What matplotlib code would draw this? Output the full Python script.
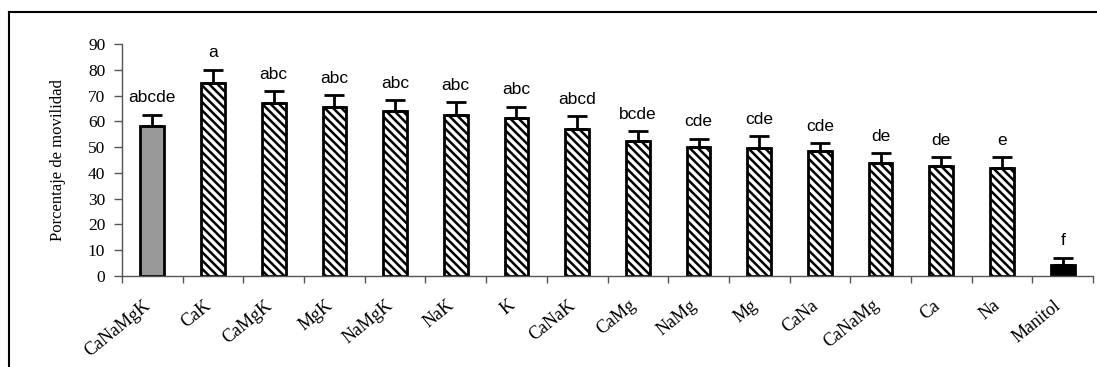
import matplotlib
matplotlib.use("Agg")
import matplotlib.pyplot as plt
from matplotlib.lines import Line2D
import numpy as np

categories = ["CaNaMgK", "CaK", "CaMgK", "MgK", "NaMgK", "NaK", "K", "CaNaK",
              "CaMg", "NaMg", "Mg", "CaNa", "CaNaMg", "Ca", "Na", "Manitol"]
values = [58.3, 75.0, 67.0, 65.5, 64.0, 62.3, 61.3, 57.0,
          52.5, 50.0, 49.8, 48.5, 44.0, 42.7, 42.0, 4.1]
errors = [4.3, 5.0, 4.8, 4.7, 4.1, 5.1, 4.4, 5.0,
          3.8, 3.3, 4.5, 3.0, 3.7, 3.4, 4.2, 3.0]
letters = ["abcde", "a", "abc", "abc", "abc", "abc", "abc", "abcd",
           "bcde", "cde", "cde", "cde", "de", "de", "e", "f"]
yticks = [0, 10, 20, 30, 40, 50, 60, 70, 80, 90]

plt.rcParams['hatch.linewidth'] = 1.8
fig = plt.figure(figsize=(10.97, 3.67), dpi=100)
ax = fig.add_axes([0.1112, 0.248, 0.8852, 0.632])

x = np.arange(len(categories))
for i, (v, e) in enumerate(zip(values, errors)):
    if i == 0:
        fc, hatch = "#999999", None
    elif i == len(categories) - 1:
        fc, hatch = "black", None
    else:
        fc, hatch = "white", "\\\\\\\\"
    ax.bar(x[i], v, width=0.39, color=fc, edgecolor="black", linewidth=2,
           hatch=hatch, zorder=2)
    ax.errorbar(x[i], v, yerr=[[0], [e]], fmt="none", ecolor="black",
                elinewidth=2, capsize=7, capthick=2, zorder=3)
    ax.text(x[i], v + e + 4.8, letters[i], ha="center", va="baseline",
            fontsize=12.5, family="Liberation Sans")

ax.set_xlim(-0.5, len(categories) - 0.5)
ax.set_ylim(0, 90)
ax.set_yticks(yticks)
ax.set_yticklabels([str(t) for t in yticks], family="Liberation Serif", fontsize=12.5)
ax.set_xticks(np.arange(-0.5, len(categories)), minor=False)
ax.set_xticklabels([])
# category labels: anchor slightly left of bar centre (as in the reference)
ax.set_xticks(x - 0.15, minor=True)
ax.set_xticklabels(categories, minor=True, rotation=39, ha="right",
                   va="top", family="Liberation Serif", fontsize=13,
                   rotation_mode="anchor")
ax.tick_params(axis="x", which="minor", length=0, pad=15)
ax.tick_params(axis="x", which="major", length=5, width=1, color="#555555")
ax.tick_params(axis="y", length=6, width=1, color="#555555", pad=6)
for s in ["top", "right"]:
    ax.spines[s].set_visible(False)
for s in ["left", "bottom"]:
    ax.spines[s].set_color("#555555")
    ax.spines[s].set_linewidth(1)
ax.set_ylabel("Porcentaje de movilidad", family="Liberation Serif", fontsize=12,
              labelpad=16)

# figure frame (top and left)
fig.add_artist(Line2D([9/1097, 1.0], [1 - 12/367, 1 - 12/367], color="black",
                      linewidth=1.5, transform=fig.transFigure))
fig.add_artist(Line2D([9/1097, 9/1097], [0, 1 - 12/367], color="black",
                      linewidth=1.5, transform=fig.transFigure))

fig.savefig("out.png", dpi=100)
